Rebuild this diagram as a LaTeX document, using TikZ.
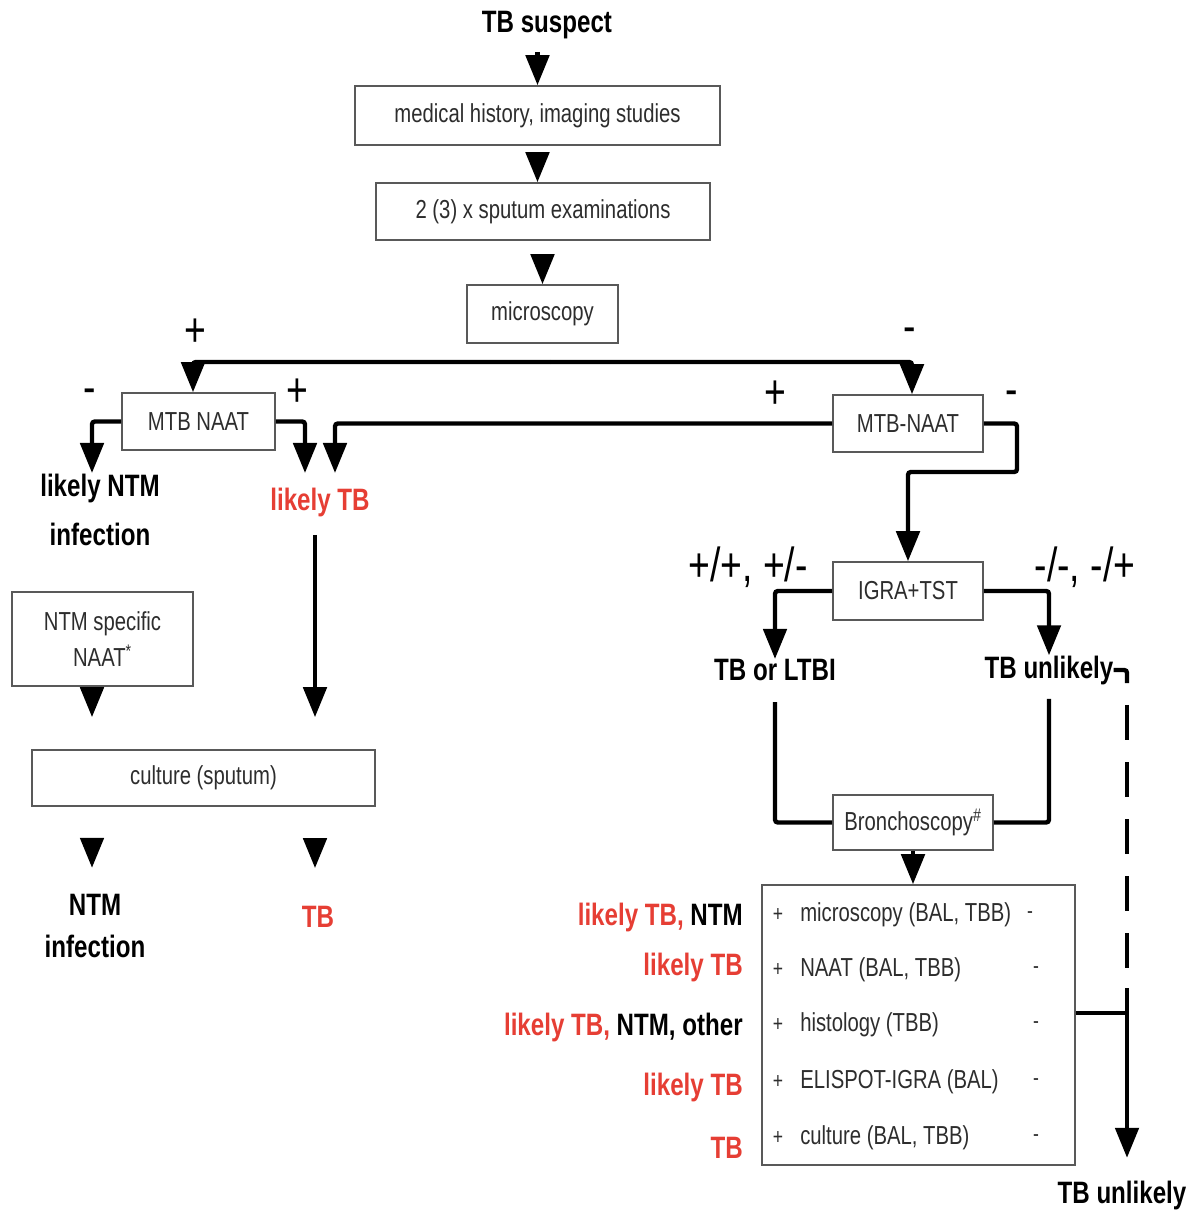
\documentclass[tikz,border=0pt]{standalone}
\usepackage{fontspec}
\setmainfont{Liberation Sans}[FakeStretch=0.78]
\usetikzlibrary{arrows.meta,calc}
\definecolor{tbred}{RGB}{230,62,52}
\definecolor{boxtext}{RGB}{45,45,45}
\begin{document}
\begin{tikzpicture}[x=0.025cm,y=-0.025cm,
  box/.style={draw=black!65, line width=1.1pt, fill=white, inner sep=0pt,
    text=boxtext, font=\fontsize{18.5}{25}\selectfont},
  bx/.style 2 args={minimum width=#1*0.025cm, minimum height=#2*0.025cm},
  lbl/.style={inner sep=0pt, align=center, font=\bfseries\fontsize{22}{35}\selectfont},
  redlbl/.style={lbl, text=tbred},
  sign/.style={inner sep=0pt, font=\fontsize{34}{36}\selectfont},
  rowtxt/.style={inner sep=0pt, text=boxtext, font=\fontsize{18.5}{22}\selectfont},
  rowsign/.style={inner sep=0pt, text=boxtext, font=\fontsize{16}{20}\selectfont},
  conn/.style={line width=3.1pt, rounded corners=2pt},
  tri/.style={conn, -{Triangle[width=0.58cm,length=0.75cm]}}]
\useasboundingbox[fill=white] (0,0) rectangle (1190,1214);

% ---------- main column ----------
\node[lbl] (ts) at (547,25) {TB suspect};
\node[box, bx={365}{59}] (b1) at (537.5,115.5) {medical history, imaging studies};
\node[box, bx={334}{57}] (b2) at (543,211.5) {2 (3) x sputum examinations};
\node[box, bx={151}{58}] (b3) at (542.5,314) {microscopy};

\draw[tri, shorten <=9pt] (b1.north |- ts.south) -- (b1.north);
\draw[tri, shorten <=5pt] (b1.south) -- (b1.south |- b2.north);
\draw[tri, shorten <=11pt] (b3.north |- b2.south) -- (b3.north);

% ---------- microscopy split ----------
\node[box, bx={153}{57}] (m1) at (198.5,421.5) {MTB NAAT};
\node[box, bx={150}{57}] (m2) at (908,423.5) {MTB-NAAT};
\coordinate (sM) at (550,362);
\coordinate (sL) at (193,362);
\coordinate (sR) at (912,362);
\draw[tri] (sM) -| (sL |- m1.north);
\draw[tri] (sM) -| (sR |- m2.north);
\node[sign] (pL) at (195,333) {+};
\node[sign] (nR) at (910,335) {-};

% ---------- left MTB NAAT ----------
\node[lbl] (ntm1) at (100,510) {likely NTM\\infection};
\node[redlbl] (ltb) at (320,502) {likely TB};
\coordinate (aN) at (92,473);
\coordinate (aT1) at (305,473);
\coordinate (aT2) at (335,473);
\draw[tri] (m1.west) -| (aN);
\draw[tri] (m1.east) -| (aT1);
\draw[tri] (m2.west) -| (aT2);
\node[sign] (m1n) at (90,396) {-};
\node[sign] (m1p) at (297,393) {+};
\node[sign] (m2p) at (775,395) {+};
\node[sign] (m2n) at (1012,398) {-};

% ---------- right MTB-NAAT negative ----------
\node[box, bx={150}{58}] (ig) at (908,591) {IGRA+TST};
\coordinate (kM) at (1017,472);
\draw[tri] (m2.east) -| (kM) -| (ig.north);
\node[sign] (igp) at (748,567) {+/+, +/-};
\node[sign] (ign) at (1085,567) {-/-, -/+};
\node[lbl] (ltbi) at (775,670) {TB or LTBI};
\node[lbl] (unl) at (1049,670) {TB unlikely};
\draw[tri] (ig.west) -| (ltbi.north);
\draw[tri] (ig.east) -| (unl.north);

% ---------- bronchoscopy ----------
\node[box, bx={160}{55}] (br) at (913,822.5) {Bronchoscopy\textsuperscript{\#}};
\draw[conn, shorten <=15pt] (ltbi.south) |- (br.west);
\draw[conn, shorten <=10pt] (unl.south) |- (br.east);
\node[box, bx={313}{280}] (bb) at (918.5,1025) {};
\draw[tri] (br.south) -- (br.south |- bb.north);

% rows of the bronchoscopy box
\foreach \n/\y in {1/915,2/970,3/1025,4/1082,5/1138}{
  \node[rowsign] (rp\n) at (778,\y) {+};
}
\node[rowsign] (rn1) at (1030,915) {-};
\foreach \n/\y in {2/970,3/1025,4/1082,5/1138}{
  \node[rowsign] (rn\n) at (1036,\y) {-};
}
\node[rowtxt, anchor=west] (rt1) at (800,915) {microscopy (BAL, TBB)};
\node[rowtxt, anchor=west] (rt2) at (800,970) {NAAT (BAL, TBB)};
\node[rowtxt, anchor=west] (rt3) at (800,1025) {histology (TBB)};
\node[rowtxt, anchor=west] (rt4) at (800,1082) {ELISPOT-IGRA (BAL)};
\node[rowtxt, anchor=west] (rt5) at (800,1138) {culture (BAL, TBB)};

% outcome labels left of the rows
\node[lbl, anchor=east] (o1) at (743,917) {\textcolor{tbred}{likely TB,} NTM};
\node[redlbl, anchor=east] (o2) at (743,967) {likely TB};
\node[lbl, anchor=east] (o3) at (743,1027) {\textcolor{tbred}{likely TB,} NTM, other};
\node[redlbl, anchor=east] (o4) at (743,1087) {likely TB};
\node[redlbl, anchor=east] (o5) at (743,1148) {TB};

% ---------- TB unlikely path ----------
\node[lbl] (unl2) at (1122,1195) {TB unlikely};
\coordinate (h1) at (1127,683);
\coordinate (dE) at (1127,988);
\coordinate (jT) at (1127,1013);
\draw[conn] (unl.east) -| (h1);
\draw[line width=3.1pt, dash pattern=on 25pt off 15.6pt, dash phase=25pt] (h1) -- (dE);
\draw[tri, shorten >=16pt] (dE) -- (dE |- unl2.north);
\draw[conn] (bb.east |- jT) -- (jT);

% ---------- left column ----------
\node[box, bx={181}{94}, align=center, font=\fontsize{18.5}{25}\selectfont] (nn) at (102.5,639) {NTM specific\\NAAT\textsuperscript{*}};
\node[box, bx={343}{56}] (cu) at (203.5,778) {culture (sputum)};
\node[lbl, font=\bfseries\fontsize{22}{30}\selectfont] (ntm2) at (95,926) {NTM\\infection};
\node[redlbl] (tb) at (318,917) {TB};
\coordinate (pN) at (92,0);
\coordinate (pT) at (315,0);
\draw[tri, shorten <=2pt, shorten >=22.8pt] (nn.south -| pN) -- (cu.north -| pN);
\draw[tri, shorten <=13pt, shorten >=22.8pt] (ltb.south -| pT) -- (cu.north -| pT);
\draw[tri, shorten <=22.8pt, shorten >=18.5pt] (cu.south -| pN) -- (ntm2.north -| pN);
\draw[tri, shorten <=22.8pt, shorten >=27pt] (cu.south -| pT) -- (tb.north -| pT);
\end{tikzpicture}
\end{document}
